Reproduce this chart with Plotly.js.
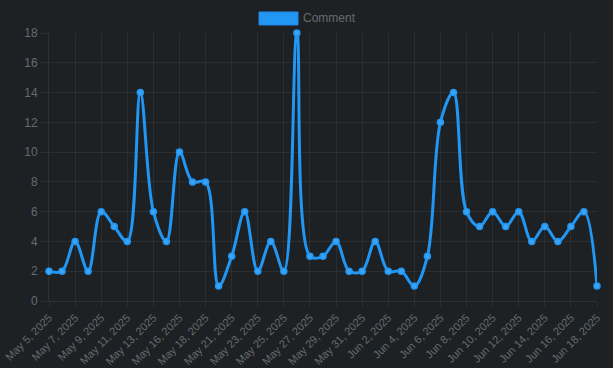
<!DOCTYPE html>
<html>
<head>
<meta charset="utf-8">
<script src="https://cdn.plot.ly/plotly-3.0.1.min.js"></script>
<style>
html,body{margin:0;padding:0;background:#1e2124;}
#chart{width:613px;height:368px;}
</style>
</head>
<body>
<div id="chart"></div>
<script>
const dates = [
  "May 5, 2025","May 6, 2025","May 7, 2025","May 8, 2025","May 9, 2025","May 10, 2025",
  "May 11, 2025","May 12, 2025","May 13, 2025","May 15, 2025","May 16, 2025","May 17, 2025",
  "May 18, 2025","May 20, 2025","May 21, 2025","May 22, 2025","May 23, 2025","May 24, 2025",
  "May 25, 2025","May 26, 2025","May 27, 2025","May 28, 2025","May 29, 2025","May 30, 2025",
  "May 31, 2025","Jun 1, 2025","Jun 2, 2025","Jun 3, 2025","Jun 4, 2025","Jun 5, 2025",
  "Jun 6, 2025","Jun 7, 2025","Jun 8, 2025","Jun 9, 2025","Jun 10, 2025","Jun 11, 2025",
  "Jun 12, 2025","Jun 13, 2025","Jun 14, 2025","Jun 15, 2025","Jun 16, 2025","Jun 17, 2025",
  "Jun 18, 2025"
];
const comments = [
  2,2,4,2,6,5,4,14,6,4,10,8,8,1,3,6,2,4,2,18,3,3,4,2,2,4,2,2,1,3,12,14,6,5,6,5,6,4,5,4,5,6,1
];
const tickLabels = dates.filter((d, i) => i % 2 === 0);
const yTicks = [0,2,4,6,8,10,12,14,16,18];
const seriesName = "Comment";

const lineColor = "#2196f3";
const gridColor = "rgba(255,255,255,0.06)";
const textColor = "#666a6e";
const family = "Liberation Sans, Arial, Helvetica, sans-serif";
const font = {family: family, size: 12, color: textColor};

const trace = {
  x: dates,
  y: comments,
  type: "scatter",
  mode: "lines+markers",
  name: seriesName,
  line: {color: lineColor, width: 3, shape: "spline", smoothing: 1},
  marker: {color: "#3ca3f5", size: 6, line: {color: lineColor, width: 1.5}},
  cliponaxis: false,
  showlegend: false,
  hoverinfo: "x+y"
};

const layout = {
  width: 613, height: 368,
  margin: {l: 49, r: 16, t: 33, b: 67},
  paper_bgcolor: "#1e2124",
  plot_bgcolor: "#1e2124",
  font: font,
  showlegend: false,
  xaxis: {
    type: "category",
    range: [0, dates.length - 1],
    tickmode: "array",
    tickvals: tickLabels,
    ticktext: tickLabels,
    tickangle: -45,
    showgrid: true,
    gridcolor: gridColor,
    gridwidth: 1,
    ticks: "outside",
    ticklen: 5,
    tickcolor: gridColor,
    showline: true,
    linecolor: "rgba(255,255,255,0.08)",
    zeroline: false,
    tickfont: {family: family, size: 11, color: textColor},
    automargin: false
  },
  yaxis: {
    range: [0, 18],
    tickmode: "array",
    tickvals: yTicks,
    showgrid: true,
    gridcolor: gridColor,
    ticks: "outside",
    ticklen: 8,
    tickcolor: gridColor,
    showline: true,
    linecolor: "rgba(255,255,255,0.08)",
    zeroline: false,
    tickfont: font,
    automargin: false
  },
  shapes: [{
    type: "rect", xref: "paper", yref: "paper",
    x0: (259 - 49) / 548, x1: (298 - 49) / 548,
    y0: 1 + (33 - 25) / 268, y1: 1 + (33 - 12) / 268,
    fillcolor: lineColor, line: {color: "#1e88e5", width: 1}
  }],
  annotations: [{
    text: seriesName, xref: "paper", yref: "paper",
    x: (301 - 49) / 548, y: 1 + (33 - 18.5) / 268,
    xanchor: "left", yanchor: "middle", showarrow: false,
    font: {family: family, size: 12, color: textColor}
  }]
};

Plotly.newPlot("chart", [trace], layout, {staticPlot: true, displayModeBar: false});
</script>
</body>
</html>
